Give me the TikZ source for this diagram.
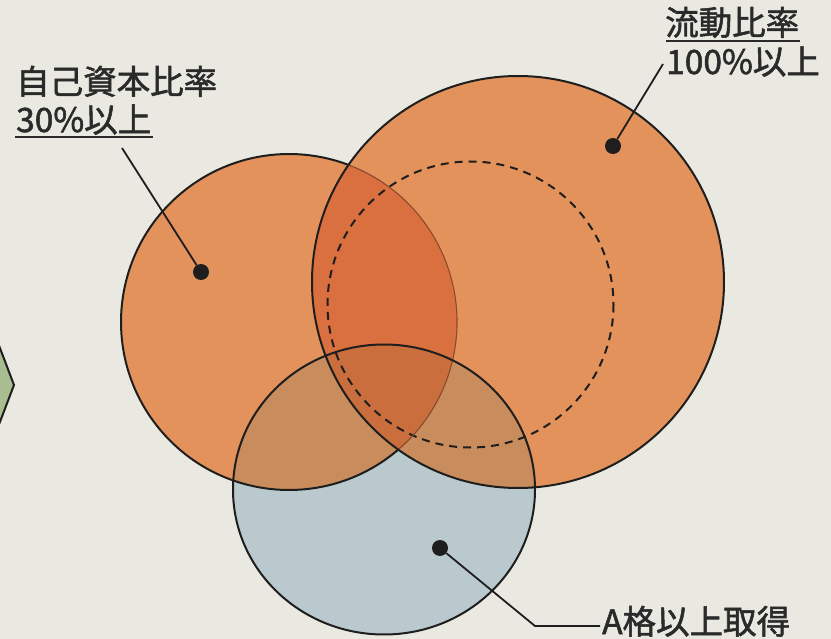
\documentclass[tikz,border=0pt]{standalone}
\usepackage{fontspec}
\setmainfont{Noto Sans CJK JP}[FakeBold=1.6]
\usetikzlibrary{calc}
\definecolor{bgc}{HTML}{E9E9E1}
\definecolor{orangec}{HTML}{E3925B}
\definecolor{orangeii}{HTML}{DA7040}
\definecolor{bluec}{HTML}{BAC9CD}
\definecolor{brownc}{HTML}{C98C5C}
\definecolor{orangeiii}{HTML}{CB6E3D}
\definecolor{linec}{HTML}{1E1E1E}
\definecolor{textc}{HTML}{2A2A2A}
\definecolor{arcc}{HTML}{8A4A2C}
\definecolor{greenc}{HTML}{A9BD90}
\begin{document}
\begin{tikzpicture}[x=1pt,y=-1pt,
  outline/.style={draw=linec, line width=2pt},
  lead/.style={draw=linec, line width=1.8pt},
  dotm/.style={circle, fill=linec, inner sep=0pt, minimum size=16pt},
  lbl/.style={font=\fontsize{33.5}{33.5}\selectfont, text=textc, inner sep=0pt, anchor=base west},
  uline/.style={draw=textc, line width=2.2pt},
  dashc/.style={draw=linec, line width=2pt, dash pattern=on 8pt off 6pt}]
\fill[bgc] (0,0) rectangle (831,639);
\useasboundingbox (0,0) rectangle (831,639);
\coordinate (cL) at (289,322);
\coordinate (cR) at (518,282);
\coordinate (cD) at (470.5,304.5);
\coordinate (cB) at (384,489.5);
\def\rL{168}\def\rR{206}\def\rD{143}\def\rBx{151}\def\rBy{145}
% green shape at left edge
\filldraw[fill=greenc, draw=linec, line width=2pt] (-5,335) -- (14,385) -- (-5,435);
% fills
\fill[orangec] (cL) circle[radius=\rL];
\fill[orangec] (cR) circle[radius=\rR];
\begin{scope}
  \clip (cL) circle[radius=\rL];
  \fill[orangeii] (cR) circle[radius=\rR];
\end{scope}
\fill[bluec] (cB) ellipse[x radius=\rBx, y radius=\rBy];
\begin{scope}
  \clip (cB) ellipse[x radius=\rBx, y radius=\rBy];
  \fill[brownc] (cL) circle[radius=\rL];
  \fill[brownc] (cR) circle[radius=\rR];
  \clip (cL) circle[radius=\rL];
  \fill[orangeiii] (cR) circle[radius=\rR];
\end{scope}
% outlines
\draw[dashc] (cD) circle[radius=\rD];
\draw[outline] ($(cL)+(49.4:\rL)$) arc[start angle=49.4, end angle=290.75, radius=\rL];
\draw[draw=arcc, line width=1.1pt] ($(cL)+(-69.25:\rL)$) arc[start angle=-69.25, end angle=49.4, radius=\rL];
\draw[outline] (cR) circle[radius=\rR];
\draw[outline] (cB) ellipse[x radius=\rBx, y radius=\rBy];
% dots
\node[dotm] (dL) at (201,272) {};
\node[dotm] (dR) at (613,146) {};
\node[dotm] (dB) at (440,548) {};
% labels
\node[lbl] (tL1) at (16,94) {自己資本比率};
\node[lbl] (tL2) at (16,132) {30\%以上};
\node[lbl] (tR1) at (665,35) {流動比率};
\node[lbl] (tR2) at (666,74) {100\%以上};
\node[lbl] (tB) at (602,634) {A格以上取得};
\draw[uline] (15,137) -- (153,137);
\draw[uline] (666,41) -- (800,41);
% leaders
\coordinate (eL) at (122,148);
\coordinate (eR) at (663,64);
\coordinate (kB) at (535,626);
\coordinate (eB) at (600,626);
\draw[lead] (eL) -- (dL);
\draw[lead] (eR) -- (dR);
\draw[lead] (dB) -- (kB) -- (eB);
\end{tikzpicture}
\end{document}
